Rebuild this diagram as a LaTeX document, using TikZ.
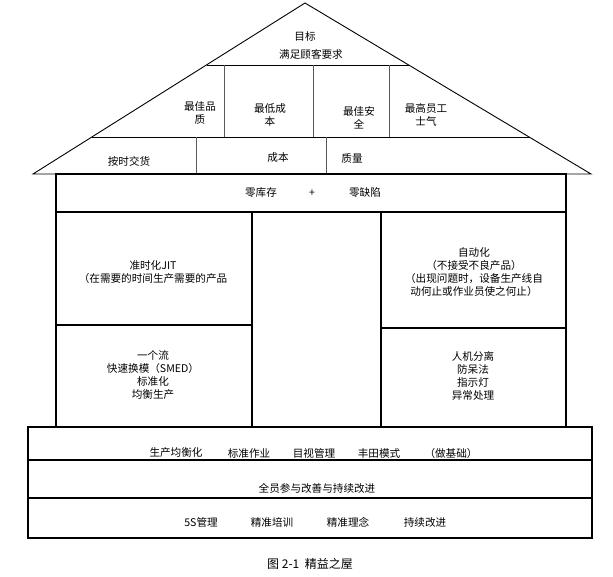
\documentclass[tikz,border=0pt]{standalone}
\usepackage{fontspec}
\setmainfont{Noto Sans CJK SC}
\newcommand\housefont{\fontsize{10.6}{12.9}\selectfont}

\begin{document}
\begin{tikzpicture}[x=1pt,y=1pt,yscale=-1,xscale=1,
  roof/.style={draw, line width=0.9pt},
  divider/.style={draw=black!65, line width=0.8pt},
  body/.style={draw, line width=1.1pt},
  found/.style={draw, line width=1.7pt},
  lbl/.style={font=\housefont, inner sep=0pt, align=center}]
\useasboundingbox (0,0) rectangle (613,577);
%Shape: Roof [triangle with two tier lines]
\coordinate (apex) at (305,3);
\coordinate (eaveL) at (33,174);
\coordinate (eaveR) at (591,174);
\draw [roof] (eaveL) -- (apex) -- (eaveR) -- cycle ;
\draw [roof] (207,65) -- (409,65) ;
\draw [roof] (92,137) -- (530,137) ;
%Shape: roof dividers
\draw [divider] (224,65) -- (224,137) ; \draw [divider] (313,65) -- (313,137) ; \draw [divider] (389,65) -- (389,137) ;
\draw [divider] (196,137) -- (196,174) ; \draw [divider] (326,137) -- (326,174) ;
%Shape: Body [beam and pillars]
\draw [body] (56,174) rectangle (566,427) ;
\draw [body] (56,212) -- (566,212) ;
\draw [body] (252,212) -- (252,427) ; \draw [body] (381,212) -- (381,427) ;
\draw [body] (56,325) -- (252,325) ; \draw [body] (381,328) -- (566,328) ;
%Shape: Foundation [three rows]
\draw [found] (28,427) rectangle (592,538) ;
\draw [found] (28,460) -- (592,460) ; \draw [found] (28,498) -- (592,498) ;

% roof texts
\node [lbl] (goal) at (305,36) {目标};
\node [lbl] (customer) at (311,54) {满足顾客要求};
\node [lbl] (quality) at (200,113) {最佳品\\质};
\node [lbl] (cost) at (270,115) {最低成\\本};
\node [lbl] (safety) at (359,118) {最佳安\\全};
\node [lbl] (morale) at (426,115) {最高员工\\士气};
\node [lbl] (delivery) at (129,161) {按时交货};
\node [lbl] (costb) at (278,158) {成本};
\node [lbl] (qualityb) at (352,158) {质量};
% beam
\node [lbl] (zeroinv) at (261,193) {零库存};
\node [lbl] (plus) at (312,193) {+};
\node [lbl] (zerodef) at (365,193) {零缺陷};
% pillars
\node [lbl] (jit) at (153,272) {准时化JIT\\（在需要的时间生产需要的产品};
\node [lbl] (jittools) at (153,375) {一个流\\快速换模（SMED）\\标准化\\均衡生产};
\node [lbl] (jidoka) at (474,272) {自动化\\（不接受不良产品）\\（出现问题时，设备生产线自\\动何止或作业员使之何止）};
\node [lbl] (jidokatools) at (473,376) {人机分离\\防呆法\\指示灯\\异常处理};
% foundation
\node [lbl] (level) at (176,453) {生产均衡化};
\node [lbl] (stdwork) at (249,453) {标准作业};
\node [lbl] (visual) at (314,453) {目视管理};
\node [lbl] (tps) at (379,453) {丰田模式};
\node [lbl] (basis) at (451,453) {（做基础）};
\node [lbl] (kaizen) at (317,488) {全员参与改善与持续改进};
\node [lbl] (fives) at (201,522) {5S管理};
\node [lbl] (training) at (272,522) {精准培训};
\node [lbl] (concept) at (348,522) {精准理念};
\node [lbl] (improve) at (425,522) {持续改进};
\node [lbl, font=\fontsize{12}{14}\selectfont] (caption) at (310,564) {图 2-1\ \ 精益之屋};
\end{tikzpicture}
\end{document}
